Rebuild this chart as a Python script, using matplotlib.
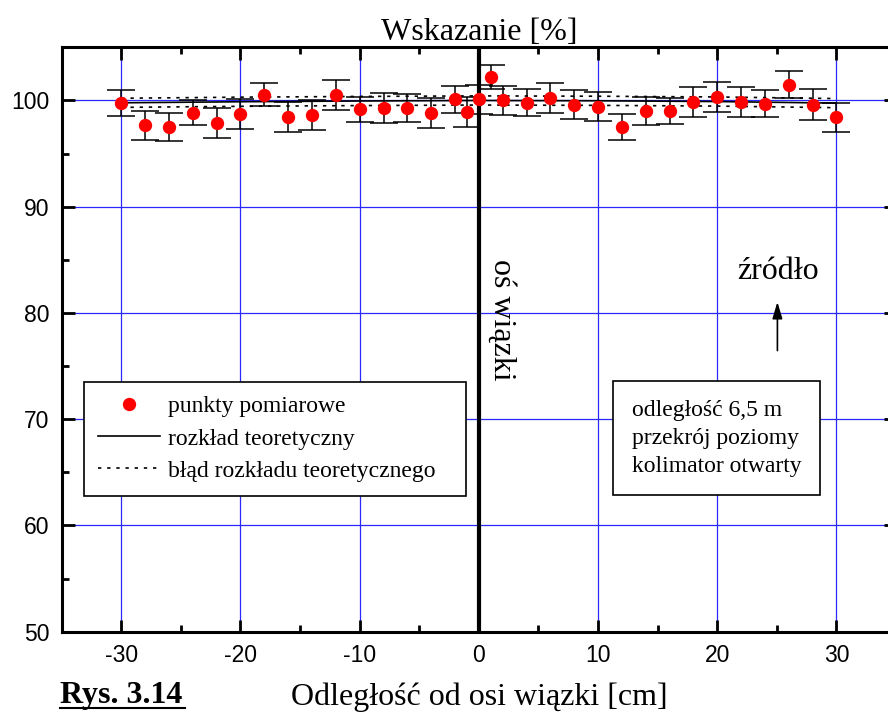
import matplotlib
matplotlib.use("Agg")
import matplotlib.pyplot as plt
from matplotlib.ticker import MultipleLocator
from matplotlib.lines import Line2D

plt.rcParams["axes.unicode_minus"] = False

#measured points (distance from beam axis in cm, reading in %)
positions = [-30, -28, -26, -24, -22, -20, -18, -16, -14, -12, -10, -8, -6, -4, -2, -1, 0, 1,
             2, 4, 6, 8, 10, 12, 14, 16, 18, 20, 22, 24, 26, 28, 30]
readings = [99.75, 97.65, 97.5, 98.85, 97.9, 98.75, 100.55, 98.45, 98.65, 100.5, 99.15, 99.3, 99.3, 98.85, 100.1, 98.9, 100.1, 102.2,
            100.0, 99.8, 100.25, 99.6, 99.4, 97.5, 99.0, 99.0, 99.85, 100.3, 99.85, 99.7, 101.5, 99.6, 98.4]
errors = [1.2, 1.4, 1.3, 1.2, 1.4, 1.4, 1.1, 1.45, 1.4, 1.4, 1.2, 1.4, 1.3, 1.4, 1.3, 1.4, 1.4, 1.15,
          1.4, 1.3, 1.4, 1.35, 1.35, 1.2, 1.3, 1.2, 1.4, 1.4, 1.45, 1.3, 1.25, 1.45, 1.35]

#theoretical distribution and its error band
theory_x = [-30, -20, -10, 0, 10, 20, 30]
theory_y = [99.78, 99.88, 99.95, 100.0, 99.97, 99.9, 99.75]
theory_err = [0.43, 0.43, 0.43, 0.43, 0.43, 0.43, 0.43]

legend_labels = ["punkty pomiarowe", "rozkład teoretyczny", "błąd rozkładu teoretycznego"]
info_lines = ["odległość 6,5 m", "przekrój poziomy", "kolimator otwarty"]

serif = "Liberation Serif"
sans = "Liberation Sans"

fig = plt.figure(figsize=(8.88, 7.13), dpi=100)
ax = fig.add_axes([0.0695, 0.114, 0.9395, 0.8196])

ax.set_xlim(-35, 35)
ax.set_ylim(50, 105)

#grid
ax.xaxis.set_major_locator(MultipleLocator(10))
ax.xaxis.set_minor_locator(MultipleLocator(5))
ax.yaxis.set_major_locator(MultipleLocator(10))
ax.yaxis.set_minor_locator(MultipleLocator(5))
ax.grid(True, which="major", color="#2828ff", linewidth=0.9)
ax.set_axisbelow(True)

#theory lines
upper = [y + e for y, e in zip(theory_y, theory_err)]
lower = [y - e for y, e in zip(theory_y, theory_err)]
ax.plot(theory_x, theory_y, color="black", linewidth=1.2, zorder=3)
ax.plot(theory_x, upper, color="black", linewidth=1.2, linestyle=(0, (2, 3.5)), zorder=3)
ax.plot(theory_x, lower, color="black", linewidth=1.2, linestyle=(0, (2, 3.5)), zorder=3)

#points with error bars
ax.errorbar(positions, readings, yerr=errors, fmt="none", ecolor="black", elinewidth=1.1, capsize=10, capthick=1.1, zorder=4)
ax.plot(positions, readings, "o", color="red", markersize=9.6, markeredgewidth=0, zorder=5)

#beam axis
ax.axvline(0, color="black", linewidth=3, zorder=4)
ax.text(1.9, 79.4, "oś wiązki", rotation=-90, ha="center", va="center", fontsize=23, family=serif)

#source arrow
ax.text(25.1, 83.9, "źródło", ha="center", va="center", fontsize=23, family=serif)
ax.annotate("", xy=(25.05, 81.3), xytext=(25.05, 76.2),
            arrowprops=dict(arrowstyle="-|>,head_length=1.0,head_width=0.3", color="black", linewidth=1.2))

#info box
ax.text(19.95, 68.2, "\n".join(info_lines), ha="center", va="center", multialignment="left",
        fontsize=17, family=serif, linespacing=1.45,
        bbox=dict(boxstyle="square,pad=0.78", facecolor="white", edgecolor="black", linewidth=1.2), zorder=6)

#legend
handles = [Line2D([], [], marker="o", color="red", linestyle="none", markersize=9.6, markeredgewidth=0),
           Line2D([], [], color="black", linewidth=1.2),
           Line2D([], [], color="black", linewidth=1.2, linestyle=(0, (2, 3.5)))]
leg = ax.legend(handles, legend_labels, loc="upper left", bbox_to_anchor=(0.0267, 0.234, 0.4579, 0.1938), mode="expand",
                prop={"family": serif, "size": 17}, frameon=True, fancybox=False, edgecolor="black", framealpha=1,
                borderpad=0.6, handlelength=2.6, handletextpad=0.34, labelspacing=0.45, borderaxespad=0)
leg.get_frame().set_linewidth(1.2)
leg.set_zorder(6)

#axes look
for s in ax.spines.values():
    s.set_linewidth(2.2)
ax.tick_params(which="both", direction="in", top=True, right=True, width=2)
ax.tick_params(which="major", length=9, pad=9, labelsize=16.5)
ax.tick_params(which="minor", length=5)
for lab in ax.get_xticklabels() + ax.get_yticklabels():
    lab.set_family(sans)

ax.set_title("Wskazanie [%]", fontsize=23, family=serif, pad=4)
ax.set_xlabel("Odległość od osi wiązki [cm]", fontsize=23, family=serif, labelpad=11)

#figure label, underlined
fig.text(0.0676, 0.014, "Rys. 3.14", fontsize=23, family=serif, weight="bold", ha="left", va="baseline")
fig.add_artist(Line2D([0.0676, 0.2083], [0.0074, 0.0074], color="black", linewidth=1.5))

fig.savefig("out.png", dpi=100)
